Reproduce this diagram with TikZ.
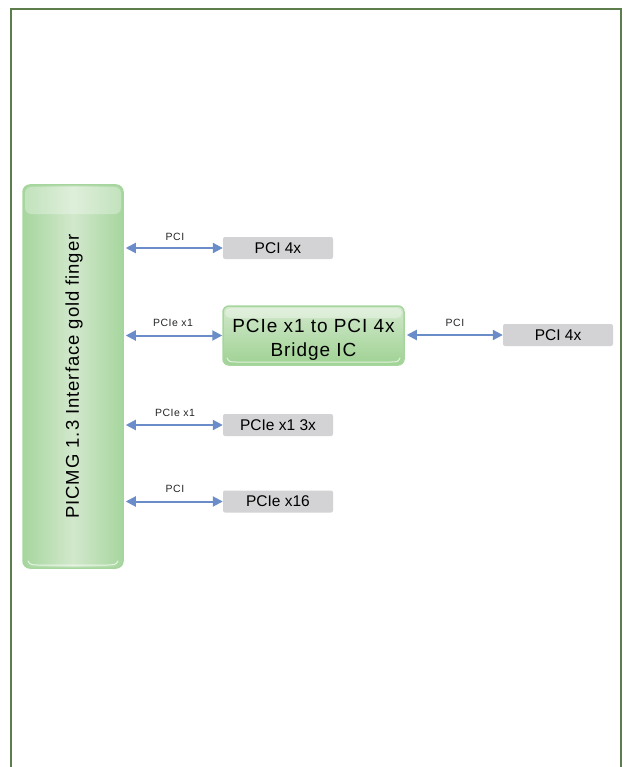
\documentclass[tikz,border=0pt]{standalone}
\usepackage{fontspec}
\setmainfont{Liberation Sans}
\newfontfamily\spaced[LetterSpace=5]{Liberation Sans}
\usetikzlibrary{arrows.meta}
\definecolor{frame}{HTML}{5E7D4C}
\definecolor{gedge}{HTML}{A6D69E}
\definecolor{gfill}{HTML}{D2E8CC}
\definecolor{gdark}{HTML}{9FD293}
\definecolor{gray1}{HTML}{D3D3D5}
\definecolor{arr}{HTML}{6A8CC8}
\tikzset{
  fingerbox/.style={draw=gedge, line width=1.5pt, rounded corners=7pt, left color=gedge, right color=gedge, middle color=gfill, inner sep=0pt},
  bridgebox/.style={draw=gedge, line width=1.5pt, rounded corners=6pt, top color=gfill, bottom color=gdark, text=black, align=center, inner sep=0pt},
  graybox/.style={fill=gray1, rounded corners=2pt, minimum width=110pt, minimum height=22pt, inner sep=0pt, font=\fontsize{15.5}{16}\selectfont},
  link/.style={arr, line width=2pt, {Triangle[length=10pt,width=10pt]}-{Triangle[length=10pt,width=10pt]}},
  lab/.style={font=\spaced\fontsize{10.5}{11}\selectfont, text=black!85, inner sep=1pt}
}
\begin{document}
\begin{tikzpicture}[x=1pt,y=-1pt]
\useasboundingbox (0,0) rectangle (625,767);
\draw[frame, line width=2pt] (11,767) -- (11,9) -- (621,9) -- (621,767);
% left big box
\node[fingerbox, minimum width=100pt, minimum height=383pt] (gf) at (73,376.5) {};
\fill[white, opacity=0.3, rounded corners=6pt] (25,187) rectangle (121,214);
\draw[white, opacity=0.7, line width=1pt, line cap=round] (28,561) .. controls (30,565) and (32,565) .. (40,565) -- (106,565) .. controls (114,565) and (116,565) .. (118,561);
\node[rotate=90, font=\spaced\fontsize{18.5}{19}\selectfont] (gft) at ([xshift=1pt]gf.center) {PICMG 1.3 Interface gold finger};
% boxes
\node[graybox] (b1) at (278,248) {PCI 4x};
\node[bridgebox, minimum width=181pt, minimum height=59pt] (br) at (313.5,335.5) {};
\fill[white, opacity=0.35, rounded corners=5pt] (225,308) rectangle (402,318);
\draw[white, opacity=0.7, line width=1pt, line cap=round] (227,358) .. controls (229,362) and (230,362) .. (236,362) -- (391,362) .. controls (397,362) and (398,362) .. (400,358);
\node[font=\spaced\fontsize{19}{24}\selectfont, align=center] (brt) at ([yshift=-4pt]br.center) {PCIe x1 to PCI 4x\\Bridge IC};
\node[graybox] (b2) at (558,335) {PCI 4x};
\node[graybox] (b3) at (278,425) {PCIe x1 3x};
\node[graybox] (b4) at (278,501.5) {PCIe x16};
% connectors
\coordinate (l1) at ([xshift=2pt]gf.east |- b1.west);
\coordinate (l2) at ([xshift=2pt]gf.east |- br.west);
\coordinate (l3) at ([xshift=2pt]gf.east |- b3.west);
\coordinate (l4) at ([xshift=2pt]gf.east |- b4.west);
\coordinate (l5) at ([xshift=2pt]br.east |- b2.west);
\draw[link] (l1) -- (b1.west);
\draw[link] (l2) -- (br.west);
\draw[link] (l3) -- (b3.west);
\draw[link] (l4) -- (b4.west);
\draw[link] (l5) -- (b2.west);
\node[lab] (t1) at (175,236.5) {PCI};
\node[lab] (t2) at (173,322.5) {PCIe x1};
\node[lab] (t3) at (175,413) {PCIe x1};
\node[lab] (t4) at (175,489) {PCI};
\node[lab] (t5) at (455,323) {PCI};
\end{tikzpicture}
\end{document}
